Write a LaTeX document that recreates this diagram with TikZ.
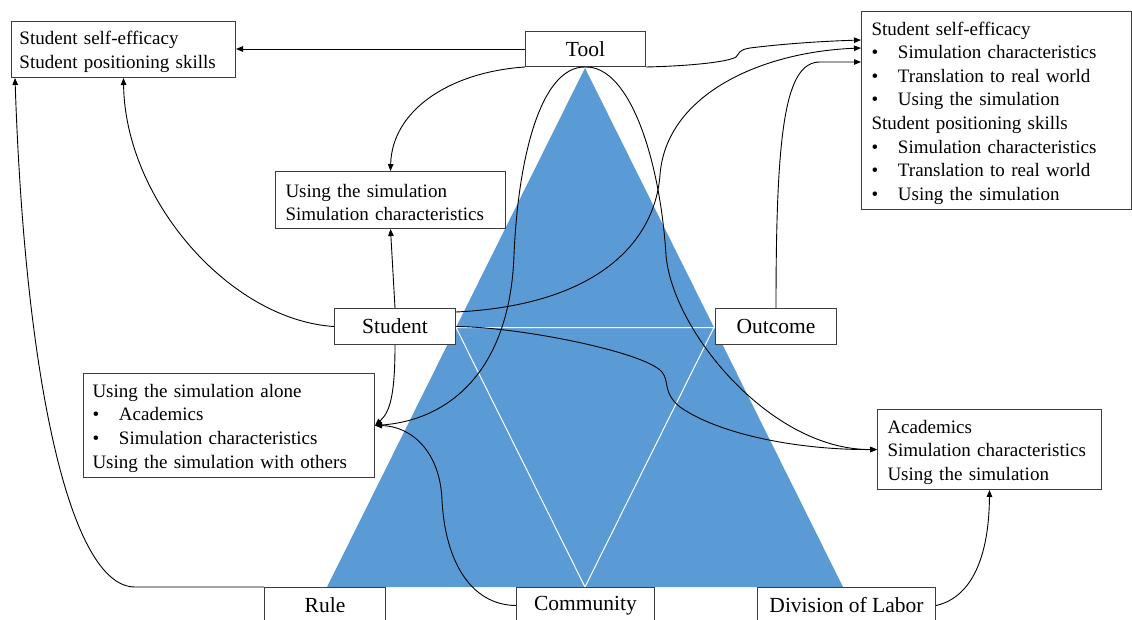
\documentclass[tikz,border=0pt]{standalone}
\usepackage{fontspec}
\setmainfont{Liberation Serif}
\usetikzlibrary{arrows.meta}
\definecolor{triblue}{RGB}{91,155,213}
\definecolor{boxline}{RGB}{60,60,60}
\newcommand{\itm}{\makebox[26.5pt][l]{\textbullet}}
\newcommand{\firstline}{\rule{0pt}{18.5pt}}
\tikzset{
  textbox/.style={draw=boxline, line width=1pt, fill=white, anchor=north west,
    inner ysep=0pt, align=left, font=\fontsize{19}{23.55}\selectfont},
  labelbox/.style={draw=boxline, line width=1pt, fill=white, anchor=north west,
    inner sep=0pt, font=\fontsize{21.5}{24}\selectfont},
  link/.style={line width=0.9pt, -{Triangle[length=7pt,width=5.5pt]}},
}
\begin{document}
\begin{tikzpicture}[x=1pt, y=-1pt]
\useasboundingbox (0,0) rectangle (1132,620);
\clip (0,0) rectangle (1132,620);

% activity triangle with its inner triangle
\fill[triblue] (585,68) -- (327,587) -- (843,587) -- cycle;
\draw[white, line width=1pt] (456,327.5) -- (714,327.5) -- (585,587) -- cycle;

% the six corners of the activity system
\node[labelbox, minimum width=120pt, minimum height=35pt] (tool) at (525,31) {Tool};
\node[labelbox, minimum width=121pt, minimum height=36pt] (student) at (334,308) {Student};
\node[labelbox, minimum width=121pt, minimum height=36pt] (outcome) at (715,308) {Outcome};
\node[labelbox, minimum width=121pt, minimum height=36pt] (rule) at (264,587) {Rule};
\node[labelbox, minimum width=138pt, minimum height=36pt] (community) at (516,587) {Community};
\node[labelbox, minimum width=178pt, minimum height=36pt] (dol) at (757,587) {Division of Labor};

% theme boxes
\node[textbox, text width=208pt, inner xsep=8pt, minimum height=56pt] (tl) at (11,21)
  {\firstline Student self-efficacy\\Student positioning skills};
\node[textbox, text width=250pt, inner xsep=10pt, minimum height=198pt] (tr) at (861,11)
  {\firstline Student self-efficacy\\
   \itm Simulation characteristics\\
   \itm Translation to real world\\
   \itm Using the simulation\\
   Student positioning skills\\
   \itm Simulation characteristics\\
   \itm Translation to real world\\
   \itm Using the simulation};
\node[textbox, text width=210pt, inner xsep=10pt, minimum height=57pt] (um) at (275,171)
  {\firstline Using the simulation\\Simulation characteristics};
\node[textbox, text width=273pt, inner xsep=9pt, minimum height=104pt] (lm) at (83,373)
  {\firstline Using the simulation alone\\
   \itm Academics\\
   \itm Simulation characteristics\\
   Using the simulation with others};
\node[textbox, text width=204pt, inner xsep=10pt, minimum height=80pt] (rm) at (877,409)
  {\firstline Academics\\Simulation characteristics\\Using the simulation};

% connectors
\draw[link] (tool.west) -- (tool.west -| tl.east);
\draw[link] (tool.south east) .. controls (690,66) and (728,62) .. (736,57)
  .. controls (740,53) and (738,50) .. (750,48)
  .. controls (790,43) and (830,41) .. ([yshift=-29pt]tr.north west);
\draw[link] ([yshift=-4pt]student.north east) .. controls (600,305) and (655,240) .. (660,175)
  .. controls (666,95) and (760,52) .. ([yshift=-37pt]tr.north west);
\draw[link] (outcome.north) .. controls (776,130) and (785,62) .. (820,62)
  -- ([yshift=-51pt]tr.north west);
\draw[link] (tool.south west) .. controls (450,72) and (392,110) .. (um.north);
\draw[link] (tool.south) .. controls (540,66) and (518,160) .. (514,255)
  .. controls (510,370) and (450,420) .. (lm.east);
\draw[link] (tool.south) .. controls (630,66) and (660,160) .. (666,255)
  .. controls (672,330) and (770,450) .. (rm.west);
\draw[link] (student.north) -- (um.south);
\draw[link] (student.south) .. controls (395,395) and (390,412) .. (lm.east);
\draw[link] (student.west) .. controls (230,320) and (125,200) .. (tl.south);
\draw[link] (rule.north west) -- (135,587) .. controls (70,587) and (25,380)
  .. ([xshift=4pt]tl.south west);
\draw[link] (community.west) .. controls (470,605) and (445,560) .. (442,500)
  .. controls (440,450) and (410,426) .. (lm.east);
\draw[link] (student.east) .. controls (520,327) and (645,352) .. (662,372)
  .. controls (670,382) and (662,392) .. (680,407)
  .. controls (720,435) and (800,450) .. (rm.west);
\draw[link] (dol.east) .. controls (970,598) and (989,560) .. (rm.south);
\end{tikzpicture}
\end{document}
